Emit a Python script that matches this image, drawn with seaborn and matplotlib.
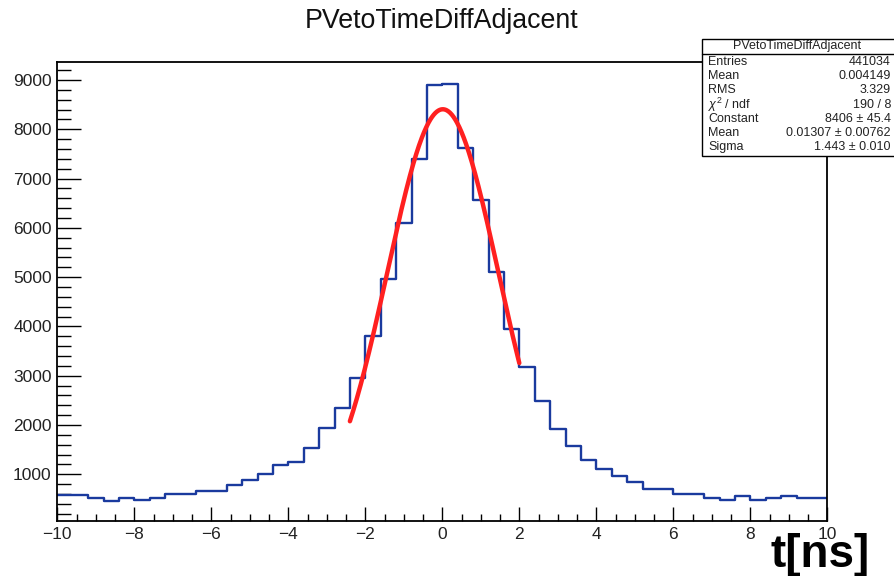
import numpy as np
import pandas as pd
import matplotlib
matplotlib.use("Agg")
import matplotlib.pyplot as plt
import seaborn as sns
from matplotlib.patches import Rectangle
from matplotlib.lines import Line2D
from matplotlib.ticker import MultipleLocator

# === data (50 bins, -10 .. 10 ns) ===
n_bins = 50
t_range = (-10, 10)
counts = [580, 575, 525, 458, 525, 485, 525, 600, 600, 668,
          668, 783, 891, 1000, 1182, 1256, 1540, 1939, 2345, 2960,
          3800, 4962, 6091, 7396, 8897, 8923, 7612, 6558, 5110, 3953,
          3183, 2487, 1913, 1574, 1290, 1108, 965, 844, 702, 702,
          594, 594, 525, 485, 560, 485, 525, 560, 525, 525]

# gaussian fit shown in the stats box
fit_const = 8406
fit_mean = 0.01307
fit_sigma = 1.443
fit_range = (-2.4, 2.0)

stat_labels = ["Entries", "Mean", "RMS", r"$\chi^2$ / ndf", "Constant", "Mean", "Sigma"]
stat_values = ["441034", "0.004149", "3.329", "190 / 8", "8406 \u00b1 45.4",
               "0.01307 \u00b1 0.00762", "1.443 \u00b1 0.010"]
hist_name = "PVetoTimeDiffAdjacent"

sns.set_theme(style="white")
plt.rcParams["font.family"] = ["Liberation Sans", "DejaVu Sans"]
plt.rcParams["mathtext.fontset"] = "custom"
plt.rcParams["mathtext.rm"] = "Liberation Sans"
plt.rcParams["mathtext.it"] = "Liberation Sans:italic"

W, H = 894, 576
fig = plt.figure(figsize=(W / 100, H / 100), dpi=100)
ax = fig.add_axes([57.3 / W, (H - 521) / H, 770 / W, (521 - 61.5) / H])

edges = np.linspace(t_range[0], t_range[1], n_bins + 1)
df = pd.DataFrame({"t": (edges[:-1] + edges[1:]) / 2, "n": counts})
sns.histplot(data=df, x="t", weights="n", bins=n_bins, binrange=t_range,
             element="step", fill=False, color="#1a3a9e", linewidth=1.7, ax=ax)

xf = np.linspace(fit_range[0], fit_range[1], 300)
yf = fit_const * np.exp(-0.5 * ((xf - fit_mean) / fit_sigma) ** 2)
sns.lineplot(x=xf, y=yf, color="#ff2020", linewidth=3.2, ax=ax)

ax.set_xlim(-10, 10)
ax.set_ylim(53, 9375)
ax.set_xlabel("")
ax.set_ylabel("")

# === ROOT-like frame and ticks ===
for spine in ax.spines.values():
    spine.set_color("black")
    spine.set_linewidth(1.3)
ax.xaxis.set_major_locator(MultipleLocator(2))
ax.xaxis.set_minor_locator(MultipleLocator(0.5))
ax.yaxis.set_major_locator(MultipleLocator(1000))
ax.yaxis.set_minor_locator(MultipleLocator(200))
ax.tick_params(which="both", direction="in", top=False, right=False,
               bottom=True, left=True, color="black", width=1.0,
               labelsize=12.5, labelcolor="#222222")
ax.tick_params(axis="x", which="major", length=10, pad=4.3)
ax.tick_params(axis="x", which="minor", length=5)
ax.tick_params(axis="y", which="major", length=17, pad=4)
ax.tick_params(axis="y", which="minor", length=9.8)

# === title and axis label ===
fig.text(442 / W, 1 - 21 / H, hist_name, ha="center", va="center",
         fontsize=19.3, color="#111111")
fig.text(870 / W, 1 - 567 / H, "t[ns]", ha="right", va="baseline",
         fontsize=33, fontweight="bold", color="black")

# === stats box ===
bx0, bx1, by0, by1 = 701.5, 897, 39, 155.7
fig.add_artist(Rectangle((bx0 / W, 1 - by1 / H), (bx1 - bx0) / W, (by1 - by0) / H,
                         transform=fig.transFigure, facecolor="white",
                         edgecolor="black", linewidth=1.0, zorder=10))
fig.add_artist(Line2D([bx0 / W, bx1 / W], [1 - 54 / H, 1 - 54 / H],
                      transform=fig.transFigure, color="black", linewidth=1.0, zorder=11))
fig.text(797 / W, 1 - 46.5 / H, hist_name, ha="center", va="center",
         fontsize=9, color="#222222", zorder=12)
for i, (lab, val) in enumerate(zip(stat_labels, stat_values)):
    y = 1 - (62 + i * 14.2) / H
    fig.text(708 / W, y, lab, ha="left", va="center", fontsize=9,
             color="#222222", zorder=12)
    fig.text(891 / W, y, val, ha="right", va="center", fontsize=9,
             color="#222222", zorder=12)

plt.savefig("out.png", dpi=100)
